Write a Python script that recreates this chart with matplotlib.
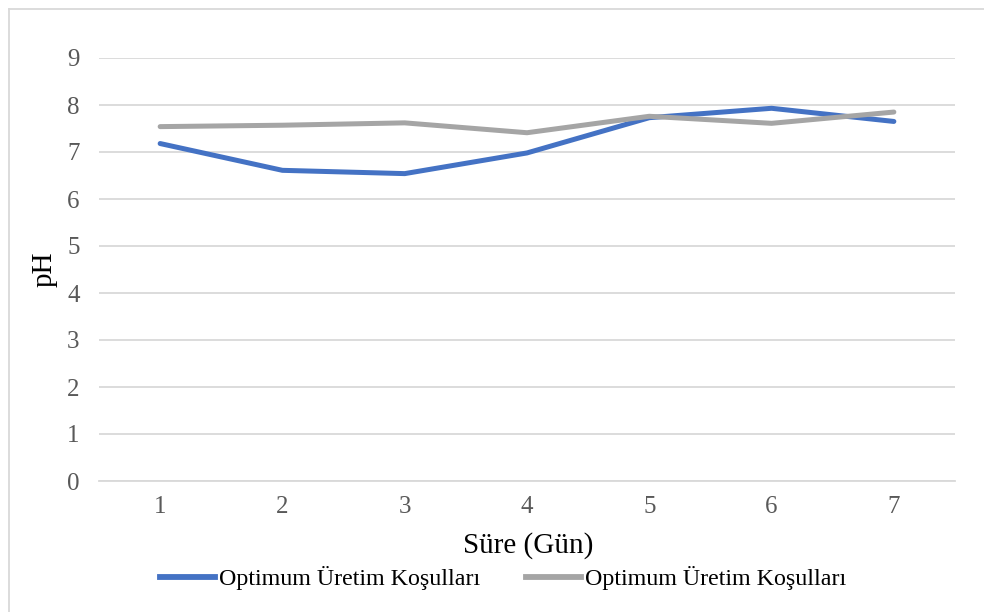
import matplotlib
matplotlib.use("Agg")
import matplotlib.pyplot as plt
from matplotlib.lines import Line2D

plt.rcParams['font.family'] = ['Liberation Serif', 'DejaVu Serif']

days = [1, 2, 3, 4, 5, 6, 7]
ph_blue = [7.18, 6.61, 6.54, 6.98, 7.73, 7.93, 7.65]
ph_gray = [7.54, 7.57, 7.62, 7.41, 7.76, 7.61, 7.85]
series_label = "Optimum Üretim Koşulları"
yticks = list(range(0, 10))

blue = "#4472C4"
gray = "#A5A5A5"
grid_c = "#D9D9D9"
tick_c = "#595959"

fig = plt.figure(figsize=(9.84, 6.12), dpi=100)
W, H = 984, 612
ax = fig.add_axes([99 / W, 1 - 481 / H, (955 - 99) / W, (481 - 58) / H])

ax.plot(days, ph_blue, color=blue, lw=3.6, solid_capstyle='round', solid_joinstyle='round')
ax.plot(days, ph_gray, color=gray, lw=3.6, solid_capstyle='round', solid_joinstyle='round')

ax.set_xlim(0.5, 7.5)
ax.set_ylim(0, 9)
ax.set_yticks(yticks)
ax.set_xticks(days)
ax.yaxis.grid(True, color=grid_c, lw=1.3)
ax.set_axisbelow(True)
for s in ['top', 'right', 'left']:
    ax.spines[s].set_visible(False)
ax.spines['bottom'].set_color(grid_c)
ax.spines['bottom'].set_linewidth(1.3)
ax.tick_params(axis='both', length=0, labelsize=18, labelcolor=tick_c)
ax.tick_params(axis='y', pad=14)
ax.tick_params(axis='x', pad=11)

fig.text(45 / W, 1 - 269 / H, "pH", rotation=90, ha='center', va='center', fontsize=21)
fig.text(528 / W, 1 - 546 / H, "Süre (Gün)", ha='center', va='center', fontsize=21)

handles = [Line2D([], [], color=blue, lw=4.2), Line2D([], [], color=gray, lw=4.2)]
fig.legend(handles, [series_label, series_label], loc='center', bbox_to_anchor=(503 / W, 1 - 578 / H),
           ncol=2, frameon=False, fontsize=17.3, handlelength=2.3, handletextpad=0.15,
           columnspacing=1.9)

# outer chart frame
fig.add_artist(Line2D([9 / W, 9 / W], [0, 1 - 9 / H], color=grid_c, lw=1.3))
fig.add_artist(Line2D([9 / W, 1], [1 - 9 / H, 1 - 9 / H], color=grid_c, lw=1.3))

fig.savefig("out.png", dpi=100, facecolor='white')
